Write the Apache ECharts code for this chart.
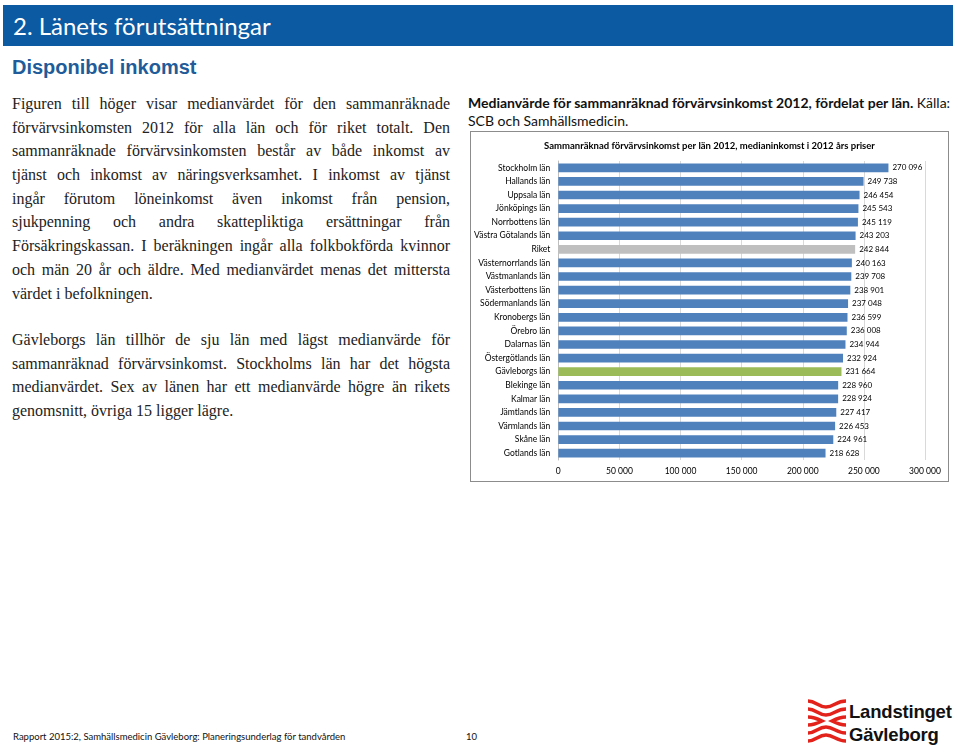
<!DOCTYPE html>
<html><head><meta charset="utf-8">
<script src="https://cdn.jsdelivr.net/npm/echarts@6/dist/echarts.min.js"></script>
<style>
html,body{margin:0;padding:0;background:#fff;width:959px;height:746px;overflow:hidden;position:relative}
#hdr{position:absolute;left:3px;top:5px;width:950px;height:41px;background:#0b5aa2;color:#fff;font-family:Lato,'Open Sans',sans-serif;font-size:24px;line-height:41px;padding-left:10px;box-sizing:border-box}
#sub{position:absolute;left:12px;top:56px;font-family:'Liberation Sans',Arial,sans-serif;font-weight:bold;font-size:20px;color:#1f5c99}
.body{position:absolute;left:12px;width:438px;font-family:'Liberation Serif','Times New Roman',serif;font-size:16px;color:#222}
.ln{height:23.7px;line-height:23.7px;text-align:justify;text-align-last:justify;white-space:nowrap}
.ln.last{text-align-last:left}
#cap{position:absolute;left:468px;top:94px;width:490px;font-family:Lato,'Open Sans',sans-serif;font-size:14px;line-height:18px;color:#111}
#chartbox{position:absolute;left:470px;top:131px;width:477px;height:349px;border:1px solid #8c8c8c}
#chart{width:477px;height:349px}
#foot{position:absolute;left:13px;top:731px;font-family:Lato,'Open Sans',sans-serif;font-size:9.5px;color:#111}
#pg{position:absolute;left:466px;top:731px;font-family:Lato,'Open Sans',sans-serif;font-size:9.5px;color:#111}
#logo{position:absolute;left:806px;top:698px}
#logotxt{position:absolute;left:849px;top:700px;font-family:'Liberation Sans',Arial,sans-serif;font-size:18.5px;line-height:23px;color:#111;font-weight:bold;letter-spacing:-0.2px}
</style></head>
<body>
<div id="hdr">2. Länets förutsättningar</div>
<div id="sub">Disponibel inkomst</div>
<div class="body" style="top:92px">
<div class="ln">Figuren till höger visar medianvärdet för den sammanräknade</div>
<div class="ln">förvärvsinkomsten 2012 för alla län och för riket totalt. Den</div>
<div class="ln">sammanräknade förvärvsinkomsten består av både inkomst av</div>
<div class="ln">tjänst och inkomst av näringsverksamhet. I inkomst av tjänst</div>
<div class="ln">ingår förutom löneinkomst även inkomst från pension,</div>
<div class="ln">sjukpenning och andra skattepliktiga ersättningar från</div>
<div class="ln">Försäkringskassan. I beräkningen ingår alla folkbokförda kvinnor</div>
<div class="ln">och män 20 år och äldre. Med medianvärdet menas det mittersta</div>
<div class="ln last">värdet i befolkningen.</div>
</div>
<div class="body" style="top:328px">
<div class="ln">Gävleborgs län tillhör de sju län med lägst medianvärde för</div>
<div class="ln">sammanräknad förvärvsinkomst. Stockholms län har det högsta</div>
<div class="ln">medianvärdet. Sex av länen har ett medianvärde högre än rikets</div>
<div class="ln last">genomsnitt, övriga 15 ligger lägre.</div>
</div>
<div id="cap"><b>Medianvärde för sammanräknad förvärvsinkomst 2012, fördelat per län.</b> Källa: SCB och Samhällsmedicin.</div>
<div id="chartbox"><div id="chart"></div></div>
<div id="foot">Rapport 2015:2, Samhällsmedicin Gävleborg: Planeringsunderlag för tandvården</div>
<div id="pg">10</div>
<svg id="logo" width="42" height="46" viewBox="0 0 42 46">
<g fill="none" stroke="#e3231b" stroke-width="3.6" stroke-linecap="butt">
<path d="M2 3 C10 3 12 9 20 9 C28 9 30 3 40 3"/>
<path d="M2 11 C10 11 12 17 20 17 C28 17 30 11 40 11"/>
<path d="M2 19 C8 19 12 21 16 23 C12 25 8 27 2 27"/>
<path d="M40 19 C34 19 30 21 26 23 C30 25 34 27 40 27"/>
<path d="M2 35 C10 35 12 29 20 29 C28 29 30 35 40 35"/>
<path d="M2 43 C10 43 12 37 20 37 C28 37 30 43 40 43"/>
</g>
</svg>
<div id="logotxt">Landstinget<br>Gävleborg</div>
<script>
var categories = ['Stockholm län','Hallands län','Uppsala län','Jönköpings län','Norrbottens län','Västra Götalands län','Riket','Västernorrlands län','Västmanlands län','Västerbottens län','Södermanlands län','Kronobergs län','Örebro län','Dalarnas län','Östergötlands län','Gävleborgs län','Blekinge län','Kalmar län','Jämtlands län','Värmlands län','Skåne län','Gotlands län'];
var values = [270096,249738,246454,245543,245119,243203,242844,240163,239708,238901,237048,236599,236008,234944,232924,231664,228960,228924,227417,226453,224961,218628];
var xTicks = [0,50000,100000,150000,200000,250000,300000];
var chartTitle = 'Sammanräknad förvärvsinkomst per län 2012, medianinkomst i 2012 års priser';
var defaultColor = '#4f81bd', riketColor = '#bfbfbf', homeColor = '#9bbb59';

function fmt(v){return String(v).replace(/\B(?=(\d{3})+(?!\d))/g,' ');}
var data = values.map(function(v,i){
  var c = categories[i]==='Riket'?riketColor:(categories[i]==='Gävleborgs län'?homeColor:defaultColor);
  return {value:v,itemStyle:{color:c}};
});
var chart = echarts.init(document.getElementById('chart'),null,{renderer:'canvas'});
chart.setOption({
  animation:false,
  title:{text:chartTitle,left:'center',top:4,textStyle:{fontFamily:'Lato, Open Sans, sans-serif',fontSize:9.5,fontWeight:'bold',color:'#000'}},
  grid:{left:78,right:23,top:29,bottom:21,containLabel:false},
  xAxis:{type:'value',min:xTicks[0],max:xTicks[xTicks.length-1],interval:50000,
    axisLine:{show:false},axisTick:{show:false},
    splitLine:{lineStyle:{color:'#d9d9d9',width:1}},
    axisLabel:{formatter:function(v){return fmt(v);},fontFamily:'Lato, Open Sans, sans-serif',fontSize:8.5,color:'#000',margin:7}},
  yAxis:{type:'category',data:categories,inverse:true,
    axisLine:{show:true,lineStyle:{color:'#bfbfbf'}},axisTick:{show:false},
    axisLabel:{fontFamily:'Lato, Open Sans, sans-serif',fontSize:8.5,color:'#000',margin:8}},
  series:[{type:'bar',data:data,barCategoryGap:'36%',
    label:{show:true,position:'right',distance:4,formatter:function(p){return fmt(p.value);},fontFamily:'Lato, Open Sans, sans-serif',fontSize:8,color:'#000'}}]
});
</script>
</body></html>
